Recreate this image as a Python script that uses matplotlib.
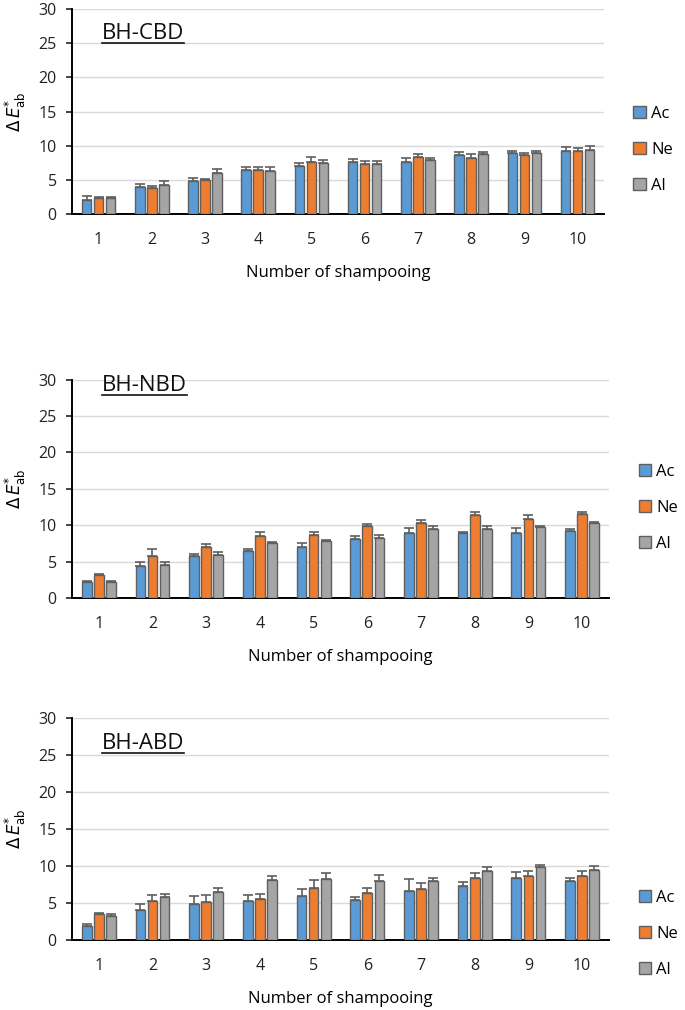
import numpy as np
import matplotlib
matplotlib.use("Agg")
import matplotlib.pyplot as plt

plt.rcParams['font.family'] = ['Open Sans', 'DejaVu Sans']

shampooing = [1, 2, 3, 4, 5, 6, 7, 8, 9, 10]
series_names = ["Ac", "Ne", "Al"]
series_colors = ["#5B9BD5", "#ED7D31", "#A5A5A5"]

# BH-CBD
cbd_ac = [2.1, 3.9, 4.8, 6.4, 7.0, 7.6, 7.6, 8.6, 8.9, 9.3]
cbd_ac_err = [0.5, 0.5, 0.45, 0.45, 0.5, 0.4, 0.55, 0.45, 0.4, 0.5]
cbd_ne = [2.4, 3.8, 5.05, 6.5, 7.65, 7.3, 8.3, 8.25, 8.6, 9.2]
cbd_ne_err = [0.15, 0.3, 0.15, 0.4, 0.65, 0.45, 0.5, 0.55, 0.4, 0.45]
cbd_al = [2.3, 4.2, 6.0, 6.3, 7.45, 7.3, 7.85, 8.75, 9.0, 9.4]
cbd_al_err = [0.2, 0.6, 0.6, 0.55, 0.5, 0.4, 0.4, 0.35, 0.3, 0.5]

# BH-NBD
nbd_ac = [2.25, 4.4, 5.7, 6.4, 7.0, 8.1, 8.95, 8.95, 8.95, 9.2]
nbd_ac_err = [0.1, 0.5, 0.4, 0.3, 0.5, 0.4, 0.6, 0.1, 0.6, 0.3]
nbd_ne = [3.15, 5.8, 6.95, 8.55, 8.65, 9.95, 10.25, 11.35, 10.9, 11.55]
nbd_ne_err = [0.12, 0.9, 0.5, 0.45, 0.4, 0.15, 0.4, 0.4, 0.5, 0.25]
nbd_al = [2.2, 4.55, 5.95, 7.6, 7.85, 8.3, 9.45, 9.5, 9.7, 10.3]
nbd_al_err = [0.1, 0.4, 0.35, 0.12, 0.12, 0.4, 0.4, 0.4, 0.2, 0.1]

# BH-ABD
abd_ac = [1.9, 4.15, 4.95, 5.3, 6.0, 5.45, 6.7, 7.3, 8.45, 7.95]
abd_ac_err = [0.35, 0.75, 1.05, 0.75, 0.9, 0.45, 1.6, 0.6, 0.8, 0.45]
abd_ne = [3.6, 5.35, 5.2, 5.6, 7.05, 6.45, 6.95, 8.4, 8.7, 8.7]
abd_ne_err = [0.08, 0.8, 0.85, 0.65, 1.1, 0.6, 0.8, 0.75, 0.7, 0.65]
abd_al = [3.25, 5.8, 6.55, 8.15, 8.3, 8.0, 7.95, 9.3, 9.95, 9.55]
abd_al_err = [0.3, 0.5, 0.55, 0.6, 0.75, 0.8, 0.4, 0.65, 0.2, 0.5]

BarWidth = 0.18
BarPitch = 0.225
EdgeColor = "#5F5F5F"


def DrawPanel(ax, title, values, errors, title_y, legend_y):
    x = np.arange(len(shampooing)) + 1
    for k in range(3):
        pos = x + (k - 1) * BarPitch
        err = np.array(errors[k])
        ax.bar(pos, values[k], BarWidth, color=series_colors[k], edgecolor=EdgeColor,
               linewidth=1.0, label=series_names[k], zorder=3,
               yerr=[np.zeros(len(err)), err], capsize=3.5,
               error_kw=dict(ecolor=EdgeColor, elinewidth=1.2, capthick=1.2, zorder=4))
    ax.set_xlim(0.5, 10.5)
    ax.set_ylim(0, 30)
    ax.set_yticks([0, 5, 10, 15, 20, 25, 30])
    ax.set_xticks(x)
    ax.set_xticklabels([str(s) for s in shampooing])
    ax.yaxis.grid(True, color="#D9D9D9", linewidth=1.0, zorder=0)
    ax.set_axisbelow(True)
    for s in ["top", "right"]:
        ax.spines[s].set_visible(False)
    ax.spines["left"].set_linewidth(1.4)
    ax.spines["bottom"].set_linewidth(1.4)
    ax.tick_params(axis="y", length=4, width=1.2, pad=7, labelsize=11.5, colors="#222222")
    ax.tick_params(axis="x", length=0, pad=13, labelsize=11.5, colors="#222222")
    ax.set_xlabel("Number of shampooing", fontsize=12, labelpad=12)
    ax.set_ylabel(r"$\Delta\,E^{*}_{\mathrm{ab}}$", fontsize=12)
    ax.yaxis.set_label_coords(-0.082, 0.5)
    ax.text(0.056, title_y, title, transform=ax.transAxes, fontsize=16,
            ha="left", va="center", color="#111111")
    # underline
    t = ax.texts[-1]
    fig.canvas.draw()
    bb = t.get_window_extent().transformed(ax.transAxes.inverted())
    ax.plot([bb.x0, bb.x1], [bb.y0 + 0.005, bb.y0 + 0.005], transform=ax.transAxes,
            color="#111111", linewidth=1.2, clip_on=False)
    ax.legend(loc="center left", bbox_to_anchor=(1.055, legend_y), frameon=False,
              fontsize=12, handlelength=0.75, handleheight=0.75, handletextpad=0.3,
              labelspacing=1.2, borderpad=0, borderaxespad=0)


fig = plt.figure(figsize=(6.85, 10.1), dpi=100)
ax1 = fig.add_axes([0.105, 0.788, 0.777, 0.203])
ax2 = fig.add_axes([0.105, 0.408, 0.784, 0.216])
ax3 = fig.add_axes([0.105, 0.069, 0.784, 0.220])

DrawPanel(ax1, "BH-CBD", [cbd_ac, cbd_ne, cbd_al], [cbd_ac_err, cbd_ne_err, cbd_al_err], 0.883, 0.312)
DrawPanel(ax2, "BH-NBD", [nbd_ac, nbd_ne, nbd_al], [nbd_ac_err, nbd_ne_err, nbd_al_err], 0.975, 0.413)
DrawPanel(ax3, "BH-ABD", [abd_ac, abd_ne, abd_al], [abd_ac_err, abd_ne_err, abd_al_err], 0.887, 0.03)

fig.savefig("out.png", dpi=100)
